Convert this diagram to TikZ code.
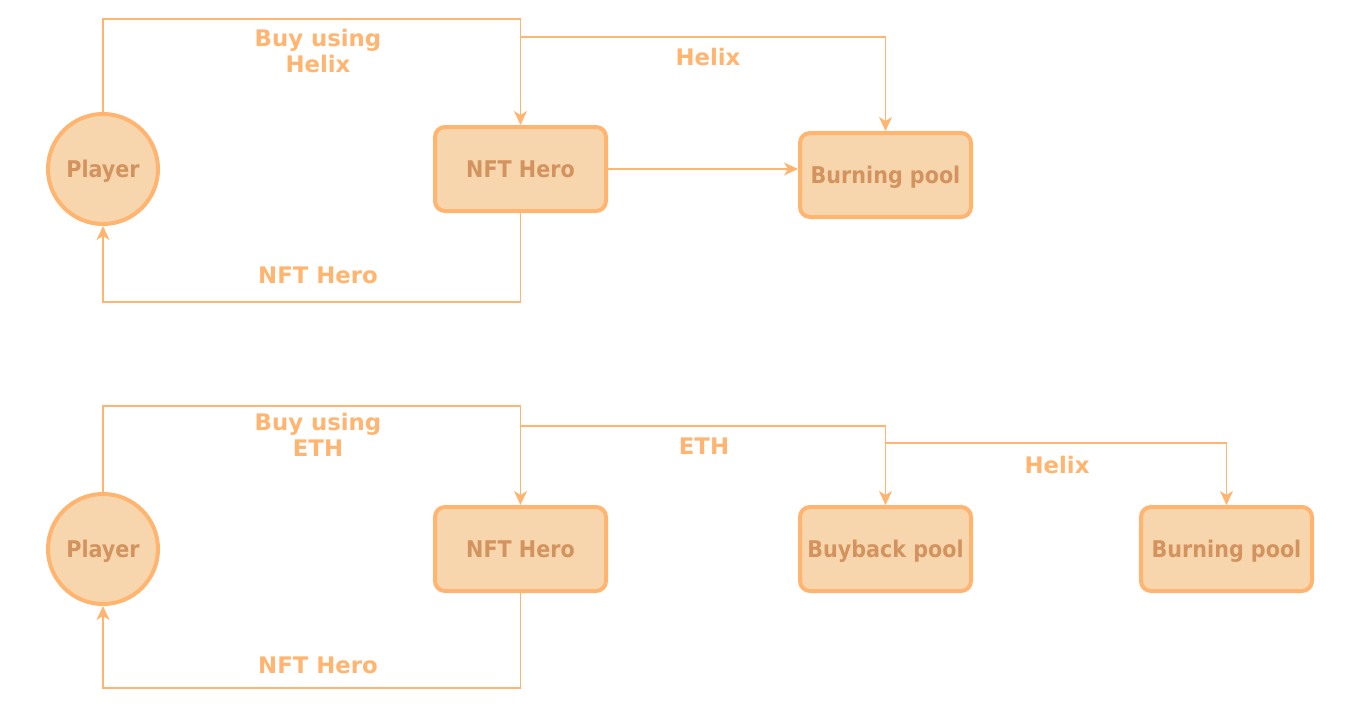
\documentclass[tikz,border=0pt]{standalone}
\usepackage{fontspec}
\usetikzlibrary{arrows.meta}
\newfontfamily\lblfont{DejaVu Sans}
\newfontfamily\boxfont{DejaVu Sans Condensed}
\definecolor{strk}{HTML}{FFB570}
\definecolor{fll}{HTML}{F8D6AD}
\definecolor{txt}{HTML}{D3935E}
\tikzset{
  box/.style={draw=strk, fill=fll, line width=4pt, rounded corners=10pt,
    minimum width=171pt, minimum height=84pt, inner sep=0pt,
    text height=16.5pt, text depth=0pt,
    text=txt, font=\boxfont\bfseries\fontsize{23}{27}\selectfont},
  circ/.style={draw=strk, fill=fll, line width=4pt, circle,
    minimum size=110pt, inner sep=0pt,
    text height=16.5pt, text depth=0pt,
    text=txt, font=\boxfont\bfseries\fontsize{23}{27}\selectfont},
  edge/.style={draw=strk, line width=1.5pt, -{Stealth[length=14pt,width=13pt,inset=4pt]}},
  lbl/.style={text=strk, align=center, inner sep=0pt,
    font=\lblfont\bfseries\fontsize{22.8}{26.5}\selectfont}
}
\begin{document}
\begin{tikzpicture}[x=1pt,y=-1pt]
\useasboundingbox (0,0) rectangle (1366,718);
% ---------- top row ----------
\node[circ] (p1) at (103,169) {Player};
\node[box]  (h1) at (520.5,169) {NFT Hero};
\node[box]  (b1) at (885.5,175) {Burning pool};
\coordinate (t1) at (318,19);
\coordinate (j1) at (521,37);
\coordinate (d1) at (318,302);
\draw[edge] (p1.north) |- (t1) -| (h1.north);
\draw[edge] (j1) -| (b1.north);
\draw[edge] (h1.east) -- (b1.west |- h1.east);
\draw[edge] (h1.south) |- (d1) -| (p1.south);
\node[lbl] (l1) at (318,51) {Buy using\\Helix};
\node[lbl] (l2) at (708,57) {Helix};
\node[lbl] (l3) at (318,275) {NFT Hero};
% ---------- bottom row ----------
\node[circ] (p2) at (103,549) {Player};
\node[box]  (h2) at (520.5,549) {NFT Hero};
\node[box]  (bb2) at (885.5,549) {Buyback pool};
\node[box]  (b2) at (1226.5,549) {Burning pool};
\coordinate (t2) at (318,406);
\coordinate (j2) at (521,426);
\coordinate (j3) at (886,443);
\coordinate (d2) at (318,688);
\draw[edge] (p2.north) |- (t2) -| (h2.north);
\draw[edge] (j2) -| (bb2.north);
\draw[edge] (j3) -| (b2.north);
\draw[edge] (h2.south) |- (d2) -| (p2.south);
\node[lbl] (l4) at (318,435) {Buy using\\ETH};
\node[lbl] (l5) at (704,446) {ETH};
\node[lbl] (l6) at (1057,465) {Helix};
\node[lbl] (l7) at (318,665) {NFT Hero};
\end{tikzpicture}
\end{document}
